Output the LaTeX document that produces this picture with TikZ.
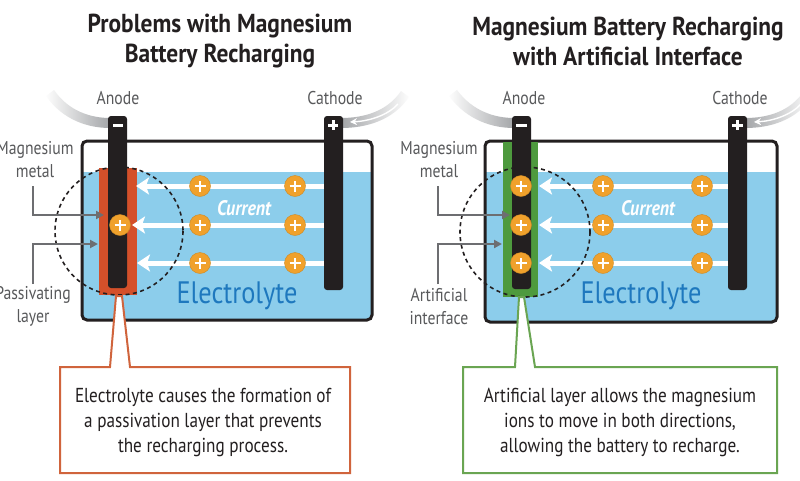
\documentclass[tikz,border=0pt]{standalone}
\usepackage{fontspec}
\setmainfont{PT Sans}[FakeStretch=0.85]
\newfontfamily\titlefont{PT Sans}[FakeStretch=0.9]
\usetikzlibrary{arrows.meta,fadings}
\definecolor{ink}{HTML}{231F20}
\definecolor{labelgray}{HTML}{58595B}
\definecolor{leadgray}{HTML}{6D6E71}
\definecolor{elec}{HTML}{8CCDEB}
\definecolor{eblue}{HTML}{1E78BE}
\definecolor{ionorange}{HTML}{F0A12C}
\definecolor{passiv}{HTML}{D4502A}
\definecolor{passline}{HTML}{D0643C}
\definecolor{artgreen}{HTML}{4E9A3E}
\definecolor{greenline}{HTML}{6AA552}
\definecolor{cable}{HTML}{9D9FA2}
\tikzset{
  ion/.style={circle, fill=ionorange, draw=ionorange!85!black, line width=0.4pt, minimum size=21pt, inner sep=0pt,
    path picture={\draw[white,line width=2.6pt]
      ([xshift=-5.5pt]path picture bounding box.center) -- ([xshift=5.5pt]path picture bounding box.center)
      ([yshift=-5.5pt]path picture bounding box.center) -- ([yshift=5.5pt]path picture bounding box.center);}},
  currentarrow/.style={white, line width=5pt, -{Stealth[length=13pt,width=17pt,inset=3pt]}},
  leader/.style={leadgray, line width=2pt, -{Triangle[length=8pt,width=8pt]}},
  electrode/.style={fill=ink, rounded corners=3pt},
  batbox/.style={draw=ink, line width=3pt, rounded corners=5pt},
  cablestyle/.style={cable, line width=10pt},
  lbl/.style={text=labelgray, font=\fontsize{18.5}{23}\selectfont, align=center, inner sep=0pt},
  title/.style={text=ink, font=\titlefont\bfseries\fontsize{26}{30}\selectfont, align=center, inner sep=0pt},
  calltext/.style={text=ink, font=\fontsize{20.2}{25}\selectfont, align=center, inner sep=0pt},
  curtext/.style={text=white, font=\itshape\bfseries\fontsize{21}{23}\selectfont, inner sep=0pt},
  eltext/.style={text=eblue, font=\fontsize{31}{36}\selectfont, inner sep=0pt},
  dashcircle/.style={draw=ink, line width=1.6pt, dash pattern=on 4pt off 3.5pt},
}
\begin{document}
\begin{tikzpicture}[x=1pt,y=-1pt]
\useasboundingbox (0,0) rectangle (800,480);
\fill[white] (0,0) rectangle (800,480);

% ================= LEFT PANEL =================
\node[title] (t1) at (220,41) {Problems with Magnesium\\Battery Recharging};
\node[lbl] (anodeL) at (118,98) {Anode};
\node[lbl] (cathL) at (335,98) {Cathode};

% cables
\draw[cablestyle, path fading=west] (50,93) .. controls (66,116) and (90,123) .. (110,123);
\draw[cablestyle, path fading=east] (405,94) .. controls (390,116) and (365,123) .. (341,123);
\draw[white, line width=1.4pt, -{Stealth[length=7pt,width=7pt]}] (398,104) .. controls (388,115) and (370,121) .. (350,122);

% battery box
\fill[white, rounded corners=5pt] (82,141) rectangle (372,320);
\fill[elec, rounded corners=5pt] (82,172) rectangle (372,320);
\fill[elec] (82,172) rectangle (372,200);
\draw[batbox] (82,141) rectangle (372,320);

% passivating layer and electrodes
\fill[passiv] (99,168) rectangle (137,295);
\fill[electrode] (108,116) rectangle (127,288);
\fill[electrode] (324,116) rectangle (343,290);
\draw[white, line width=3pt] (113,125) -- (123,125);
\draw[white, line width=3pt] (328,125) -- (338,125) (333,120) -- (333,130);

% current arrows
\coordinate (La1s) at (324,186); \coordinate (La1e) at (136,186);
\coordinate (La2s) at (324,225); \coordinate (La2e) at (132,225);
\coordinate (La3s) at (324,263); \coordinate (La3e) at (137,263);
\draw[currentarrow] (La1s) -- (La1e);
\draw[currentarrow] (La2s) -- (La2e);
\draw[currentarrow] (La3s) -- (La3e);
\node[ion] (Li11) at (200,186) {};
\node[ion] (Li12) at (295,186) {};
\node[ion] (Li21) at (200,225) {};
\node[ion] (Li22) at (295,225) {};
\node[ion] (Li31) at (200,263) {};
\node[ion] (Li32) at (295,263) {};
\node[ion] (Li0) at (120,225) {};

\node[curtext] (curL) at (244,208) {Current};
\node[eltext] (elL) at (237,296) {Electrolyte};

\draw[dashcircle] (119,231) circle[radius=64];

% side labels
\node[lbl] (mgL) at (35,160) {Magnesium\\metal};
\node[lbl] (pasL) at (33,306) {Passivating\\layer};
\coordinate (mgLa) at (33,186);
\coordinate (mgLb) at (104,215);
\coordinate (pasLa) at (33,284);
\coordinate (pasLb) at (98,244);
\draw[leader] (mgLa) |- (mgLb);
\draw[leader] (pasLa) |- (pasLb);

% callout
\draw[passline, line width=2pt, fill=white, line join=miter]
  (60,367) -- (110,367) -- (116,296) -- (122,296) -- (130,367) -- (350,367) -- (350,473) -- (60,473) -- cycle;
\node[calltext] (cL) at (203,422) {Electrolyte causes the formation of\\a passivation layer that prevents\\the recharging process.};

% ================= RIGHT PANEL =================
\node[title] (t2) at (628,41) {Magnesium Battery Recharging\\with Artificial Interface};
\node[lbl] (anodeR) at (524,98) {Anode};
\node[lbl] (cathR) at (740,98) {Cathode};

\draw[cablestyle, path fading=west] (453,93) .. controls (470,116) and (494,123) .. (514,123);
\draw[cablestyle, path fading=east] (808,94) .. controls (793,116) and (769,123) .. (745,123);
\draw[white, line width=1.4pt, -{Stealth[length=7pt,width=7pt]}] (801,104) .. controls (791,115) and (773,121) .. (754,122);

\fill[white, rounded corners=5pt] (485,141) rectangle (777,322);
\fill[elec, rounded corners=5pt] (485,172) rectangle (777,322);
\fill[elec] (485,172) rectangle (777,200);
\draw[batbox] (485,141) rectangle (777,322);

\fill[artgreen] (503,142) rectangle (538,297);
\fill[electrode] (512,116) rectangle (531,289);
\fill[electrode] (728,116) rectangle (747,290);
\draw[white, line width=3pt] (516,125) -- (527,125);
\draw[white, line width=3pt] (732,125) -- (743,125) (737.5,120) -- (737.5,130);

\coordinate (Ra1s) at (728,186); \coordinate (Ra1e) at (539,186);
\coordinate (Ra2s) at (728,225); \coordinate (Ra2e) at (539,225);
\coordinate (Ra3s) at (728,263); \coordinate (Ra3e) at (539,263);
\draw[currentarrow] (Ra1s) -- (Ra1e);
\draw[currentarrow] (Ra2s) -- (Ra2e);
\draw[currentarrow] (Ra3s) -- (Ra3e);
\node[ion] (Ri11) at (603,186) {};
\node[ion] (Ri12) at (702,186) {};
\node[ion] (Ri21) at (603,225) {};
\node[ion] (Ri22) at (702,225) {};
\node[ion] (Ri31) at (603,263) {};
\node[ion] (Ri32) at (702,263) {};
\node[ion] (Ri01) at (521,186) {};
\node[ion] (Ri02) at (521,225) {};
\node[ion] (Ri03) at (521,263) {};

\node[curtext] (curR) at (648,208) {Current};
\node[eltext] (elR) at (641,296) {Electrolyte};

\draw[dashcircle] (525,232) circle[radius=65];

\node[lbl] (mgR) at (439,160) {Magnesium\\metal};
\node[lbl] (artR) at (439,307) {Artificial\\interface};
\coordinate (mgRa) at (438,186);
\coordinate (mgRb) at (510,215);
\coordinate (artRa) at (438,284);
\coordinate (artRb) at (502,244);
\draw[leader] (mgRa) |- (mgRb);
\draw[leader] (artRa) |- (artRb);

\draw[greenline, line width=2pt, fill=white, line join=miter]
  (463,367) -- (515,367) -- (519,297) -- (524,297) -- (535,367) -- (777,367) -- (777,473) -- (463,473) -- cycle;
\node[calltext] (cR) at (620,422) {Artificial layer allows the magnesium\\ions to move in both directions,\\allowing the battery to recharge.};
\end{tikzpicture}
\end{document}
